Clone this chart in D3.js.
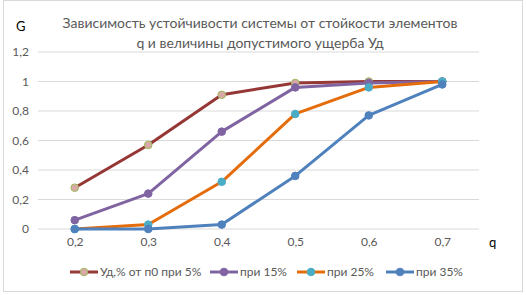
<!DOCTYPE html>
<html>
<head>
<meta charset="utf-8">
<script src="https://cdn.jsdelivr.net/npm/d3@7"></script>
<style>
  body { margin: 0; background: #fff; }
  text { font-family: Lato, "Open Sans", sans-serif; fill: #595959; }
</style>
</head>
<body>
<svg id="chart"></svg>
<script>
const categories = ["0,2", "0,3", "0,4", "0,5", "0,6", "0,7"];
const yTicks = [0, 0.2, 0.4, 0.6, 0.8, 1, 1.2];
const seriesNames = ["Уд,% от п0 при 5%", "при 15%", "при 25%", "при 35%"];
const s5 = [0.28, 0.57, 0.91, 0.99, 1.0, 1.0];
const s15 = [0.06, 0.24, 0.66, 0.96, 0.99, 1.0];
const s25 = [0, 0.03, 0.32, 0.78, 0.96, 1.0];
const s35 = [0, 0, 0.03, 0.36, 0.77, 0.98];

const styles = [
    {line: "#953735", fill: "#D9A9A8", stroke: "#9BBB59"},
    {line: "#8064A2", fill: "#8064A2", stroke: "#8064A2"},
    {line: "#E46C0A", fill: "#4BACC6", stroke: "#4BACC6"},
    {line: "#4F81BD", fill: "#4F81BD", stroke: "#4F81BD"}
];
const series = [s5, s15, s25, s35].map((v, i) => ({name: seriesNames[i], values: v, style: styles[i]}));

const width = 526, height = 295;
const plot = {left: 38, right: 479, top: 52, bottom: 229};

const svg = d3.select("#chart").attr("width", width).attr("height", height);

svg.append("rect")
    .attr("x", 3.5).attr("y", 0.5)
    .attr("width", 519).attr("height", 291)
    .attr("fill", "#fff").attr("stroke", "#d9d9d9");

const x = d3.scalePoint().domain(categories).range([plot.left, plot.right]).padding(0.5);
const y = d3.scaleLinear().domain([0, 1.2]).range([plot.bottom, plot.top]);

// gridlines
svg.append("g").selectAll("line")
    .data(yTicks)
    .join("line")
    .attr("x1", plot.left).attr("x2", plot.right)
    .attr("y1", d => y(d)).attr("y2", d => y(d))
    .attr("stroke", "#d9d9d9").attr("stroke-width", 1);

const yAxis = d3.axisLeft(y).tickValues(yTicks).tickSize(0).tickPadding(9)
    .tickFormat(d => String(d).replace(".", ","));
svg.append("g")
    .attr("transform", `translate(${plot.left},0)`)
    .call(yAxis)
    .call(g => g.select(".domain").remove())
    .call(g => g.selectAll("text").style("font-size", "12px").attr("fill", "#595959"));

const xAxis = d3.axisBottom(x).tickSize(0).tickPadding(8);
svg.append("g")
    .attr("transform", `translate(0,${plot.bottom})`)
    .call(xAxis)
    .call(g => g.select(".domain").remove())
    .call(g => g.selectAll("text").style("font-size", "12px").attr("fill", "#595959"));

const line = d3.line().x((d, i) => x(categories[i])).y(d => y(d));

const sg = svg.append("g").selectAll("g").data(series).join("g");
sg.append("path")
    .attr("d", d => line(d.values))
    .attr("fill", "none")
    .attr("stroke", d => d.style.line)
    .attr("stroke-width", 3)
    .attr("stroke-linejoin", "round");
sg.selectAll("circle")
    .data(d => d.values.map((v, i) => ({v, i, style: d.style})))
    .join("circle")
    .attr("cx", d => x(categories[d.i]))
    .attr("cy", d => y(d.v))
    .attr("r", 3.8)
    .attr("fill", d => d.style.fill)
    .attr("stroke", d => d.style.stroke)
    .attr("stroke-width", 1);

// title
const title = svg.append("text")
    .attr("x", 260).attr("y", 28)
    .attr("text-anchor", "middle")
    .style("font-size", "14px");
title.append("tspan").attr("x", 260).attr("dy", 0).text("Зависимость устойчивости системы от стойкости элементов");
title.append("tspan").attr("x", 260).attr("dy", 20).text("q и величины допустимого ущерба Уд");

svg.append("text").attr("x", 16).attr("y", 31).style("font-size", "13px").attr("fill", "#000").style("fill", "#000").text("G");
svg.append("text").attr("x", 489).attr("y", 247).style("font-size", "13px").style("fill", "#000").text("q");

// legend
const legendX = [70, 210, 297, 386];
const lg = svg.append("g").selectAll("g").data(series).join("g")
    .attr("transform", (d, i) => `translate(${legendX[i]},272)`);
lg.append("line")
    .attr("x1", 0).attr("x2", 28)
    .attr("stroke", d => d.style.line).attr("stroke-width", 3);
lg.append("circle")
    .attr("cx", 14).attr("r", 3.8)
    .attr("fill", d => d.style.fill).attr("stroke", d => d.style.stroke);
lg.append("text")
    .attr("x", 30).attr("y", 4)
    .style("font-size", "12px")
    .text(d => d.name);
</script>
</body>
</html>
